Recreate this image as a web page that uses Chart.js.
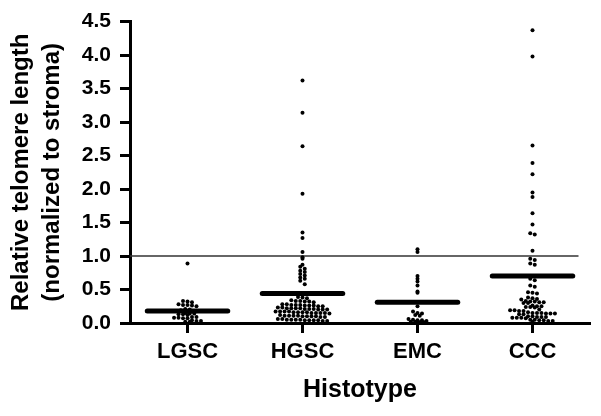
<!DOCTYPE html>
<html>
<head>
<meta charset="utf-8">
<script src="https://cdn.jsdelivr.net/npm/chart.js@4/dist/chart.umd.min.js"></script>
<style>
  html, body { margin: 0; padding: 0; background: #fff; }
</style>
</head>
<body>
<canvas id="myChart" width="601" height="416"></canvas>
<script>
// categories on the x axis
const categories = ['LGSC', 'HGSC', 'EMC', 'CCC'];

// relative telomere length per tumour, one array per histotype
const lgscValues = [0.89, 0.33, 0.32, 0.31, 0.28, 0.27, 0.27, 0.26, 0.25, 0.21, 0.20, 0.19,
  0.15, 0.14, 0.14, 0.13, 0.13, 0.12, 0.09, 0.09, 0.08, 0.08, 0.07, 0.07, 0.04, 0.03, 0.03, 0.02, 0.02];

const hgscValues = [3.62, 3.14, 2.64, 1.93, 1.35, 1.27, 1.06, 0.98, 0.96, 0.87, 0.84, 0.81, 0.78, 0.76,
  0.73, 0.71, 0.68, 0.66, 0.63, 0.58,
  0.39, 0.38, 0.37,
  0.34, 0.33, 0.33, 0.32, 0.32, 0.31,
  0.28, 0.28, 0.27, 0.27, 0.27, 0.26, 0.26, 0.26, 0.25, 0.25,
  0.23, 0.23, 0.22, 0.22, 0.22, 0.22, 0.21, 0.21, 0.21, 0.20, 0.20, 0.20,
  0.17, 0.17, 0.17, 0.17, 0.16, 0.16, 0.16, 0.16, 0.15, 0.15, 0.15, 0.15, 0.14,
  0.12, 0.11, 0.11, 0.11, 0.11, 0.10, 0.10, 0.10, 0.10, 0.09, 0.09,
  0.06, 0.06, 0.05, 0.05, 0.05, 0.05, 0.04, 0.04, 0.04, 0.04, 0.03, 0.03];

const emcValues = [1.10, 1.06, 0.70, 0.66, 0.62, 0.56, 0.47, 0.45, 0.25, 0.17, 0.15, 0.14, 0.12, 0.11,
  0.06, 0.05, 0.04, 0.04, 0.03, 0.02, 0.02, 0.01, 0.01];

const cccValues = [4.37, 3.98, 2.65, 2.39, 2.22, 1.95, 1.88, 1.64, 1.47, 1.34, 1.32, 1.08, 0.96, 0.94,
  0.89, 0.87, 0.70, 0.66, 0.64, 0.56, 0.54, 0.46, 0.45, 0.44,
  0.38, 0.37, 0.36, 0.35,
  0.33, 0.32, 0.32, 0.31, 0.31, 0.30, 0.30,
  0.26, 0.25, 0.25, 0.24, 0.24, 0.23,
  0.20, 0.19, 0.19, 0.18, 0.18,
  0.16, 0.15, 0.15, 0.15, 0.14, 0.14, 0.14, 0.13, 0.13,
  0.10, 0.10, 0.09, 0.09, 0.09, 0.08, 0.08, 0.08, 0.07,
  0.05, 0.05, 0.04, 0.04, 0.03, 0.03, 0.02];

// group centre lines (thick bars) and the stroma reference level
const groupMeans = [0.18, 0.44, 0.31, 0.70];
const referenceLevel = 1.0;

// y tick labels
const yTicks = [0, 0.5, 1.0, 1.5, 2.0, 2.5, 3.0, 3.5, 4.0, 4.5];

const FONT = '"Liberation Sans", Arial, Helvetica, sans-serif';
const BIN = 0.055;   // row height of the swarm, in data units
const DX = 0.039;    // horizontal gap between neighbouring dots, in category units
const HALF_BAR = 0.35;

// spread the values of one group into rows, centred on the category
function swarm(values, center) {
  const rows = {};
  values.forEach(v => {
    const b = Math.round(v / BIN);
    (rows[b] = rows[b] || []).push(v);
  });
  const points = [];
  Object.values(rows).forEach(row => {
    row.forEach((v, k) => points.push({ x: center + (k - (row.length - 1) / 2) * DX, y: v }));
  });
  return points;
}

const groups = [lgscValues, hgscValues, emcValues, cccValues];
const dotPoints = groups.flatMap((vals, i) => swarm(vals, i));

const meanDatasets = groupMeans.map((m, i) => ({
  type: 'line',
  data: [{ x: i - HALF_BAR, y: m }, { x: i + HALF_BAR, y: m }],
  borderColor: '#000',
  borderWidth: 5,
  borderCapStyle: 'round',
  pointRadius: 0,
  order: 0
}));

const ctx = document.getElementById('myChart');
new Chart(ctx, {
  type: 'scatter',
  data: {
    datasets: [
      {
        type: 'line',
        data: [{ x: -0.5, y: referenceLevel }, { x: 3.4, y: referenceLevel }],
        borderColor: '#333',
        borderWidth: 1.3,
        pointRadius: 0,
        order: 2
      },
      {
        data: dotPoints,
        pointRadius: 2,
        pointBackgroundColor: '#000',
        pointBorderWidth: 0,
        clip: false,
        order: 1
      },
      ...meanDatasets
    ]
  },
  options: {
    responsive: false,
    animation: false,
    layout: { padding: { top: 20, right: 11, bottom: 0, left: 0 } },
    plugins: { legend: { display: false }, tooltip: { enabled: false } },
    scales: {
      x: {
        type: 'linear',
        min: -0.5,
        max: 3.5,
        afterBuildTicks: scale => { scale.ticks = categories.map((c, i) => ({ value: i })); },
        afterFit: scale => { scale.height = 93; },
        ticks: {
          callback: v => categories[v],
          color: '#000',
          padding: 6,
          maxRotation: 0,
          font: { family: FONT, size: 22, weight: 'bold' }
        },
        grid: { drawOnChartArea: false, drawTicks: true, tickLength: 10, tickWidth: 3, tickColor: '#000' },
        border: { display: true, color: '#000', width: 3 },
        title: {
          display: true,
          text: 'Histotype',
          color: '#000',
          padding: { top: 0, bottom: 11 },
          font: { family: FONT, size: 25, weight: 'bold' }
        }
      },
      y: {
        min: 0,
        max: 4.5,
        afterBuildTicks: scale => { scale.ticks = yTicks.map(v => ({ value: v })); },
        afterFit: scale => { scale.width = 130; },
        ticks: {
          callback: v => v.toFixed(1),
          color: '#000',
          padding: 9,
          font: { family: FONT, size: 21, weight: 'bold' }
        },
        grid: { drawOnChartArea: false, drawTicks: true, tickLength: 10, tickWidth: 3, tickColor: '#000' },
        border: { display: true, color: '#000', width: 3 },
        title: {
          display: true,
          text: ['Relative telomere length', '(normalized to stroma)'],
          color: '#000',
          padding: { top: 6, bottom: 0 },
          font: { family: FONT, size: 24, weight: 'bold', lineHeight: 1.3 }
        }
      }
    }
  }
});
</script>
</body>
</html>
